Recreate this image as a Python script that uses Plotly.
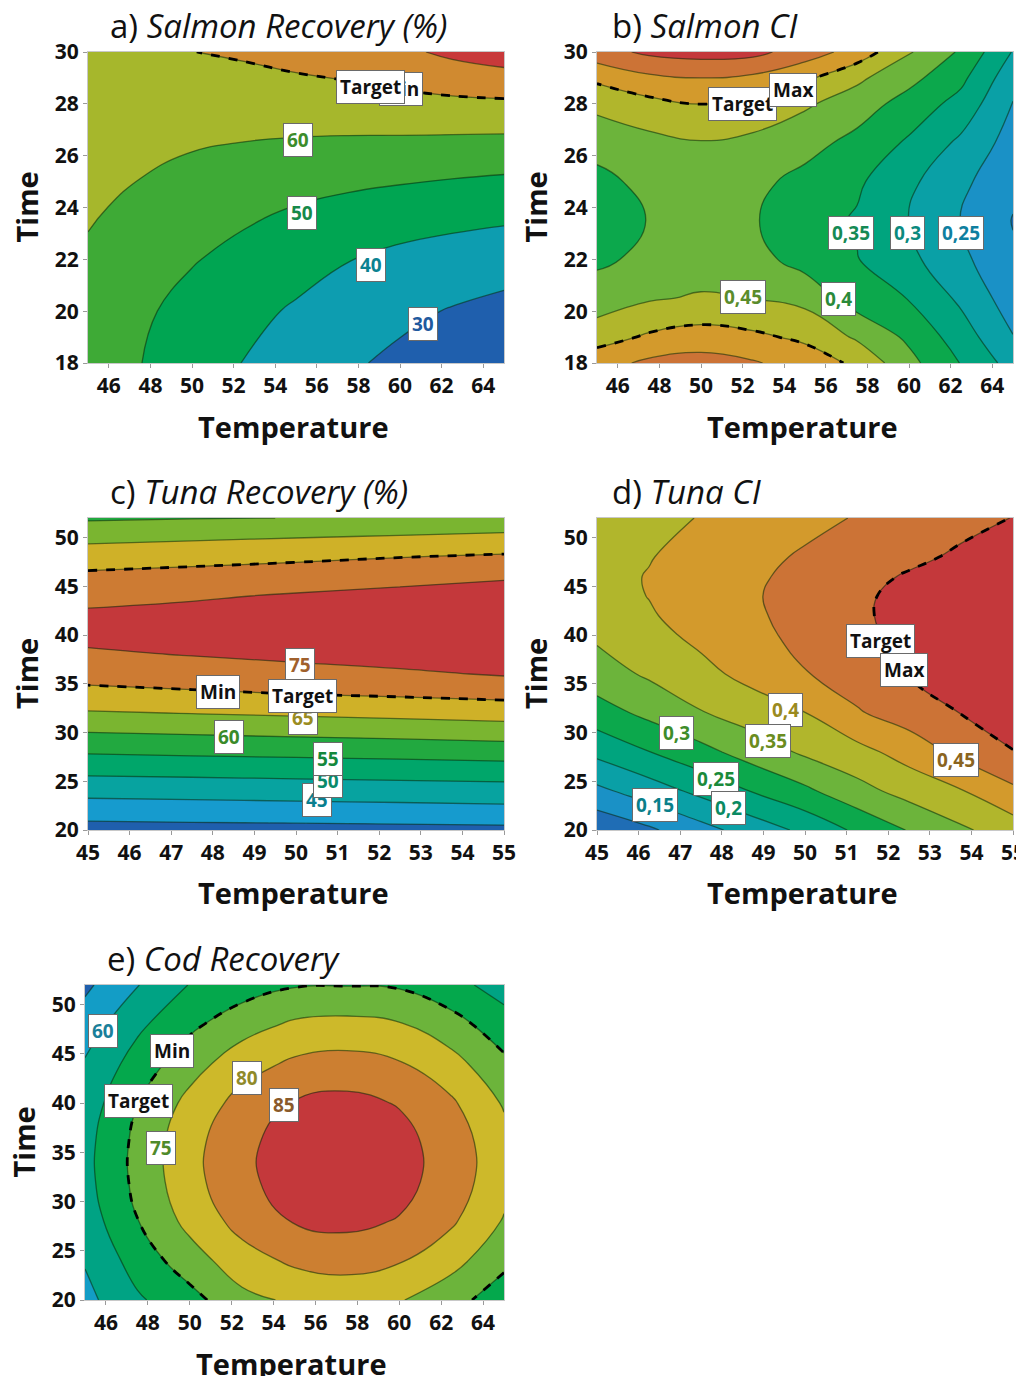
import plotly.graph_objects as go

# ---------------- data ----------------
# a) Salmon Recovery (%)
salmon_temp = [45, 47.5, 50, 52.5, 55, 57.5, 60, 62.5, 65]
salmon_rec_time = [18, 20, 22, 24, 26, 28, 30]
salmon_recovery = [
    [55.5, 50.2, 44.9, 39.7, 35.5, 31.3, 28.0, 25.5, 23.0],
    [56.5, 51.5, 47.0, 42.8, 38.8, 35.4, 32.1, 29.4, 27.0],
    [58.3, 54.5, 50.6, 47.3, 44.0, 40.3, 37.6, 35.8, 34.5],
    [61.5, 57.5, 54.8, 52.0, 49.7, 47.5, 45.7, 44.2, 43.0],
    [65.0, 62.0, 59.5, 58.0, 57.0, 56.2, 55.5, 54.7, 54.0],
    [67.5, 66.5, 66.0, 65.5, 65.5, 66.0, 67.0, 67.8, 68.3],
    [69.0, 69.5, 69.9, 71.0, 73.0, 75.0, 78.0, 82.0, 85.0],
]

# b) Salmon CI
salmon_ci_time = [18, 19, 20.5, 22, 23.5, 25, 26.5, 28, 29, 30]
salmon_ci = [
    [0.530, 0.560, 0.570, 0.555, 0.528, 0.490, 0.415, 0.348, 0.280],
    [0.479, 0.507, 0.521, 0.510, 0.490, 0.443, 0.390, 0.325, 0.252],
    [0.421, 0.445, 0.455, 0.449, 0.435, 0.375, 0.348, 0.290, 0.224],
    [0.392, 0.410, 0.425, 0.418, 0.380, 0.352, 0.312, 0.262, 0.206],
    [0.385, 0.401, 0.410, 0.404, 0.372, 0.345, 0.298, 0.249, 0.198],
    [0.390, 0.410, 0.420, 0.413, 0.385, 0.358, 0.310, 0.262, 0.210],
    [0.413, 0.435, 0.447, 0.437, 0.418, 0.385, 0.343, 0.290, 0.229],
    [0.465, 0.485, 0.502, 0.487, 0.457, 0.425, 0.380, 0.333, 0.248],
    [0.510, 0.540, 0.550, 0.540, 0.510, 0.460, 0.415, 0.362, 0.268],
    [0.580, 0.610, 0.620, 0.615, 0.575, 0.530, 0.455, 0.393, 0.297],
]

# c) Tuna Recovery (%)
tuna_rec_temp = [45, 47.5, 50, 52.5, 55]
tuna_rec_time = [20, 22, 24, 26, 28, 30, 32, 34, 36, 38, 40, 42, 44, 46, 48, 50, 52]
tuna_recovery = [
    [38.10, 38.30, 38.45, 38.60, 38.80],
    [42.30, 42.60, 42.90, 43.20, 43.57],
    [46.60, 46.90, 47.25, 47.60, 47.90],
    [51.00, 51.30, 51.66, 52.00, 52.40],
    [55.45, 55.90, 56.30, 56.75, 57.25],
    [59.95, 60.50, 61.07, 61.60, 62.25],
    [64.55, 65.15, 65.77, 66.40, 67.10],
    [68.70, 69.40, 70.10, 70.75, 71.50],
    [71.75, 72.40, 73.20, 74.20, 75.40],
    [74.30, 75.20, 76.20, 77.10, 77.97],
    [76.30, 76.90, 77.70, 78.54, 79.20],
    [75.90, 76.60, 77.45, 78.33, 79.00],
    [73.50, 74.40, 75.47, 76.50, 77.45],
    [71.00, 71.65, 72.40, 73.30, 74.40],
    [67.70, 68.40, 69.10, 69.90, 70.66],
    [63.70, 64.30, 64.90, 65.50, 66.16],
    [59.35, 59.80, 60.05, 61.00, 61.50],
]

# d) Tuna CI
tuna_ci_temp = [45, 46.25, 47.5, 48.75, 50, 51.25, 52.5, 53.75, 55]
tuna_ci_time = [20, 24, 28, 32, 36, 40, 42, 44, 46, 48, 52]
tuna_ci = [
    [0.060, 0.092, 0.133, 0.172, 0.2115, 0.259, 0.303, 0.342, 0.375],
    [0.138, 0.175, 0.213, 0.253, 0.290, 0.333, 0.368, 0.397, 0.440],
    [0.213, 0.249, 0.2846, 0.3226, 0.358, 0.384, 0.420, 0.4635, 0.499],
    [0.278, 0.3125, 0.347, 0.374, 0.399, 0.445, 0.474, 0.501, 0.515],
    [0.328, 0.357, 0.386, 0.416, 0.4475, 0.475, 0.502, 0.520, 0.532],
    [0.358, 0.385, 0.412, 0.437, 0.464, 0.491, 0.510, 0.528, 0.540],
    [0.374, 0.396, 0.418, 0.443, 0.467, 0.494, 0.512, 0.528, 0.540],
    [0.384, 0.401, 0.421, 0.446, 0.467, 0.493, 0.511, 0.526, 0.538],
    [0.387, 0.402, 0.420, 0.443, 0.463, 0.484, 0.505, 0.519, 0.532],
    [0.381, 0.398, 0.416, 0.437, 0.456, 0.472, 0.489, 0.508, 0.522],
    [0.372, 0.387, 0.402, 0.419, 0.436, 0.453, 0.468, 0.485, 0.501],
]

# e) Cod Recovery
cod_temp = [45, 47.5, 50, 52.5, 55, 57.5, 60, 62.5, 65]
cod_time = [20, 24, 28, 32, 36, 40, 44, 48, 52]
cod_recovery = [
    [58.5, 64.3, 68.2, 73.6, 75.8, 76.5, 75.4, 71.6, 67.5],
    [60.4, 67.1, 72.7, 77.9, 80.9, 82.0, 80.4, 76.8, 71.1],
    [62.3, 69.85, 76.5, 81.8, 85.3, 86.2, 84.7, 80.7, 74.6],
    [63.4, 71.3, 78.28, 83.8, 87.26, 88.15, 86.66, 82.56, 76.66],
    [63.4, 71.3, 78.28, 83.8, 87.26, 88.15, 86.66, 82.56, 76.66],
    [62.3, 69.85, 76.5, 81.8, 85.3, 86.4, 84.7, 80.7, 74.5],
    [60.5, 67.1, 72.9, 77.9, 80.9, 81.8, 80.4, 76.8, 71.1],
    [57.3, 63.95, 68.9, 72.9, 75.8, 76.4, 75.4, 71.9, 67.1],
    [54.0, 59.8, 65.2, 67.6, 69.6, 69.8, 69.4, 66.6, 62.9],
]

# tick values
ticks_temp_wide = [46, 48, 50, 52, 54, 56, 58, 60, 62, 64]
ticks_temp_narrow = [45, 46, 47, 48, 49, 50, 51, 52, 53, 54, 55]
ticks_time_salmon = [18, 20, 22, 24, 26, 28, 30]
ticks_time_long = [20, 25, 30, 35, 40, 45, 50]

# contour-label texts
a_labels = [("Min", 60.05, 28.57, "#111111"), ("Target", 58.6, 28.65, "#111111"),
            ("60", 55.1, 26.6, "#3c8c2c"), ("50", 55.3, 23.8, "#16894a"),
            ("40", 58.6, 21.8, "#0b8291"), ("30", 61.1, 19.5, "#1f5a9e")]
b_labels = [("Target", 52.0, 27.99, "#111111"), ("Max", 54.4, 28.53, "#111111"),
            ("0,35", 57.2, 23.02, "#158a55"), ("0,3", 59.95, 23.0, "#0b8a7e"),
            ("0,25", 62.5, 23.0, "#0f7fa0"), ("0,45", 52.0, 20.55, "#5a8c2c"),
            ("0,4", 56.6, 20.47, "#2a8a3a")]
c_labels = [("75", 50.1, 36.95, "#a0602c"), ("65", 50.16, 31.5, "#9a8c22"),
            ("60", 48.4, 29.55, "#3a8a2a"), ("45", 50.5, 23.07, "#0a7f8f"),
            ("50", 50.76, 25.0, "#0a8a6a"), ("55", 50.76, 27.29, "#15883c"),
            ("Min", 48.13, 34.17, "#111111"), ("Target", 50.16, 33.76, "#111111")]
d_labels = [("Target", 51.82, 39.41, "#111111"), ("Max", 52.37, 36.43, "#111111"),
            ("0,4", 49.53, 32.3, "#9a8a20"), ("0,35", 49.1, 29.14, "#6a8c20"),
            ("0,3", 46.9, 29.96, "#3e8c2a"), ("0,25", 47.87, 25.23, "#1a8a3a"),
            ("0,2", 48.16, 22.25, "#0a8a62"), ("0,15", 46.4, 22.56, "#0a7f8a"),
            ("0,45", 53.64, 27.18, "#8a6420")]
e_labels = [("60", 45.86, 47.37, "#1a7f9a"), ("Min", 49.16, 45.34, "#111111"),
            ("Target", 47.53, 40.17, "#111111"), ("80", 52.74, 42.6, "#8f8a2a"),
            ("85", 54.5, 39.8, "#8a5a2a"), ("75", 48.62, 35.4, "#4f8a2a")]

# ---------------- styling ----------------
OFF = 8                      # page body margin of the HTML page
W, H = 1024 - OFF, 1376 - OFF
FONT = "Open Sans"
LINE = "rgba(10,40,10,0.55)"

COL7 = ["#1f5fad", "#0d9db0", "#00a552", "#3eaa36", "#a6b72c", "#d08a30", "#c8393a"]
COL10 = ["#1f6db5", "#1a91c6", "#0aa0a6", "#00a47e", "#0ca84c", "#6cb43b",
         "#b1b62c", "#d39a2c", "#cc7336", "#c4383b"]
COL9 = ["#1f5fad", "#169bce", "#07a3a0", "#00a66a", "#22a940", "#7ab530",
        "#cfb128", "#cd7b33", "#c4383b"]
COL8 = ["#1f5fad", "#139dc6", "#00a384", "#04a84c", "#6cb43b", "#cdb92a",
        "#cc7f31", "#c4383b"]

panels = [
    dict(title="a) <i>Salmon Recovery (%)</i>", box=(88, 52, 504, 363),
         x=salmon_temp, y=salmon_rec_time, z=salmon_recovery,
         xr=[45, 65], yr=[18, 30], xt=ticks_temp_wide, yt=ticks_time_salmon,
         lv=(30, 80, 10), colors=COL7, dash=70, labels=a_labels),
    dict(title="b) <i>Salmon CI</i>", box=(597, 52, 1013, 363),
         x=salmon_temp, y=salmon_ci_time, z=salmon_ci,
         xr=[45, 65], yr=[18, 30], xt=ticks_temp_wide, yt=ticks_time_salmon,
         lv=(0.2, 0.6, 0.05), colors=COL10, dash=0.5, labels=b_labels),
    dict(title="c) <i>Tuna Recovery (%)</i>", box=(88, 518, 504, 830),
         x=tuna_rec_temp, y=tuna_rec_time, z=tuna_recovery,
         xr=[45, 55], yr=[20, 52], xt=ticks_temp_narrow, yt=ticks_time_long,
         lv=(40, 75, 5), colors=COL9, dash=70, labels=c_labels),
    dict(title="d) <i>Tuna CI</i>", box=(597, 518, 1013, 830),
         x=tuna_ci_temp, y=tuna_ci_time, z=tuna_ci,
         xr=[45, 55], yr=[20, 52], xt=ticks_temp_narrow, yt=ticks_time_long,
         lv=(0.1, 0.5, 0.05), colors=COL10, dash=0.5, labels=d_labels),
    dict(title="e) <i>Cod Recovery</i>", box=(85, 985, 504, 1300),
         x=cod_temp, y=cod_time, z=cod_recovery,
         xr=[45, 65], yr=[20, 52], xt=ticks_temp_wide, yt=ticks_time_long,
         lv=(55, 85, 5), colors=COL8, dash=70, labels=e_labels),
]


def fx(px):
    return (px - OFF) / W


def fy(py):
    return 1 - (py - OFF) / H


fig = go.Figure()
annotations = []
layout = dict(width=W, height=H, autosize=False, margin=dict(l=0, r=0, t=0, b=0, pad=0),
              paper_bgcolor="white", plot_bgcolor="white", showlegend=False,
              font=dict(family=FONT, color="#111"))

for i, p in enumerate(panels):
    ax = "" if i == 0 else str(i + 1)
    xa, ya = "x" + ax, "y" + ax
    start, end, size = p["lv"]
    n = len(p["colors"])
    cscale = [[k / (n - 1), c] for k, c in enumerate(p["colors"])]
    fig.add_trace(go.Contour(
        x=p["x"], y=p["y"], z=p["z"], xaxis=xa, yaxis=ya,
        autocontour=False,
        contours=dict(start=start, end=end, size=size, coloring="fill", showlines=True),
        colorscale=cscale, showscale=False,
        line=dict(color=LINE, width=1.3, smoothing=1.3), hoverinfo="skip"))
    fig.add_trace(go.Contour(
        x=p["x"], y=p["y"], z=p["z"], xaxis=xa, yaxis=ya,
        autocontour=False,
        contours=dict(start=p["dash"], end=p["dash"], size=size, coloring="none"),
        showscale=False,
        line=dict(color="black", width=2.8, dash="dash", smoothing=1.3), hoverinfo="skip"))

    l, t, r, b = p["box"]
    common = dict(showgrid=False, zeroline=False, showline=True, mirror=True,
                  automargin=False, ticklabeloverflow="allow",
                  linecolor="#c8c8c8", linewidth=1, ticks="outside", ticklen=4,
                  tickcolor="#9a9a9a",
                  tickfont=dict(family=FONT, size=21, color="#111", weight="bold"))
    layout["xaxis" + ax] = dict(domain=[fx(l), fx(r)], range=p["xr"], anchor=ya,
                                tickvals=p["xt"], **common)
    layout["yaxis" + ax] = dict(domain=[fy(b), fy(t)], range=p["yr"], anchor=xa,
                                tickvals=p["yt"], **common)

    # panel title
    annotations.append(dict(text=p["title"], xref="paper", yref="paper",
                            x=fx(l + (20 if i % 2 == 0 else 13)), y=fy(t - 27),
                            xanchor="left", yanchor="middle", showarrow=False,
                            font=dict(family=FONT, size=33, color="#111")))
    # axis titles
    annotations.append(dict(text="<b>Temperature</b>", xref="paper", yref="paper",
                            x=fx((l + r) / 2 - 3), y=fy(b + 63),
                            xanchor="center", yanchor="middle", showarrow=False,
                            font=dict(family=FONT, size=29, color="#111")))
    annotations.append(dict(text="<b>Time</b>", xref="paper", yref="paper",
                            x=fx(l - 62), y=fy((t + b) / 2), textangle=-90,
                            xanchor="center", yanchor="middle", showarrow=False,
                            font=dict(family=FONT, size=29, color="#111")))
    # contour labels
    for txt, lx, ly, col in p["labels"]:
        annotations.append(dict(text="<b>" + txt + "</b>", xref=xa, yref=ya, x=lx, y=ly,
                                showarrow=False, bgcolor="white", bordercolor="#6a6a6a",
                                borderwidth=1, borderpad=3,
                                font=dict(family=FONT, size=19, color=col)))

layout["annotations"] = annotations
fig.update_layout(**layout)
fig.write_html("out.html")
